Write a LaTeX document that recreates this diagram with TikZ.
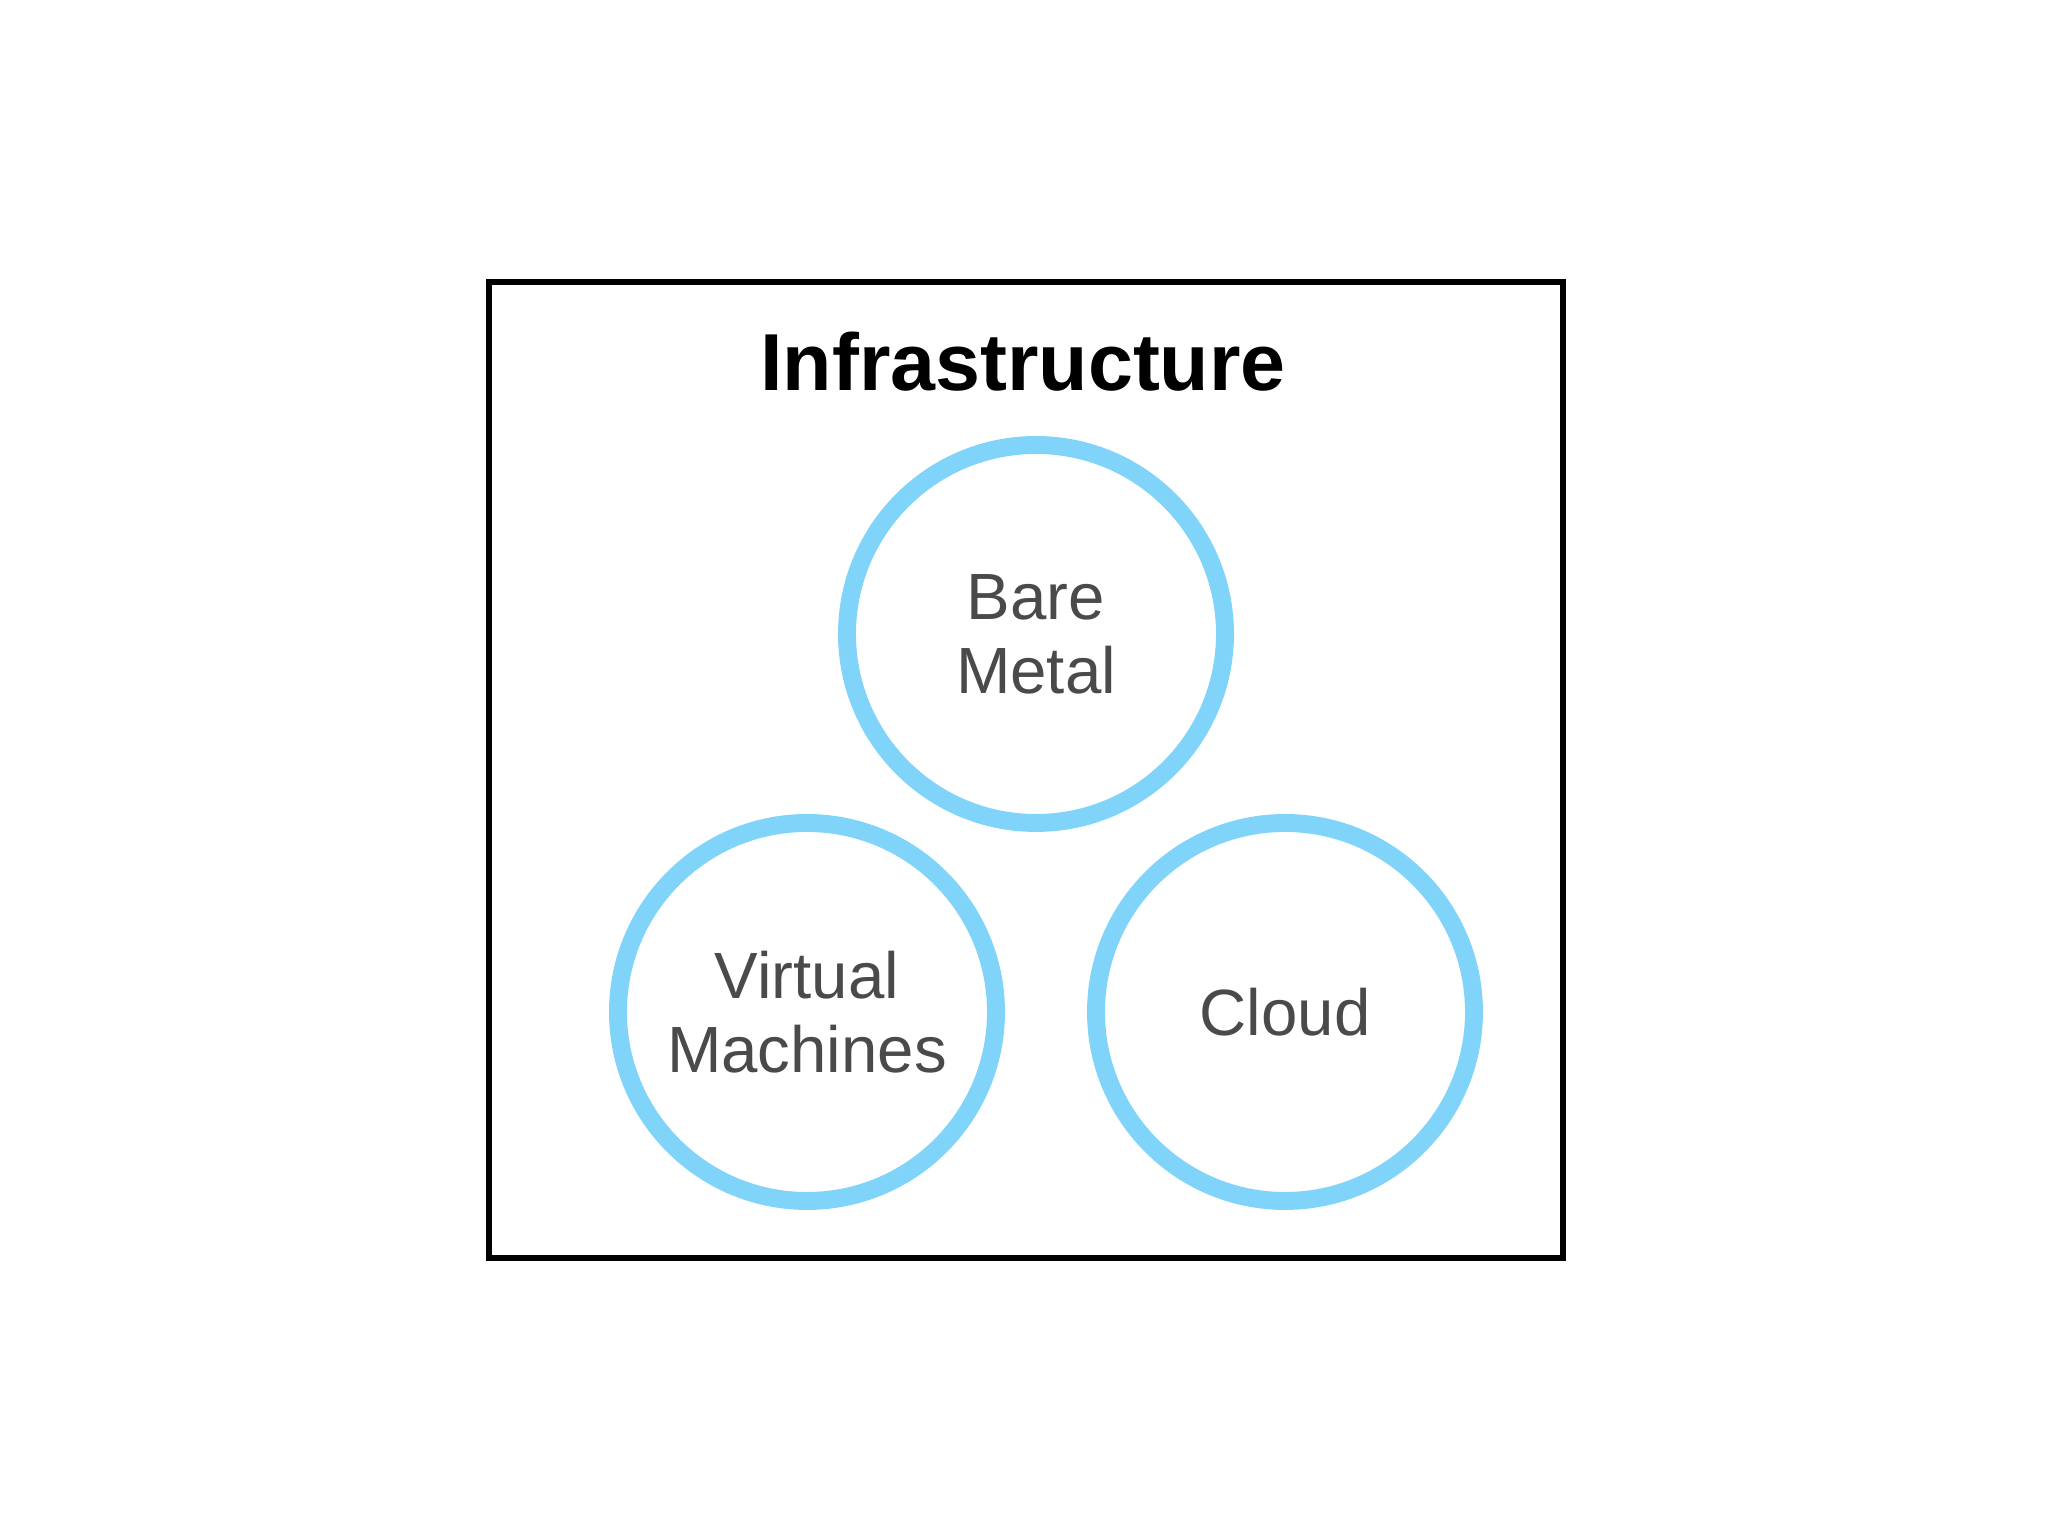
\documentclass[tikz,border=0pt]{standalone}
\usepackage{fontspec}
\setmainfont{Liberation Sans}
\usetikzlibrary{positioning}
\definecolor{ringblue}{RGB}{128,212,250}
\definecolor{labelgray}{RGB}{74,74,74}

\begin{document}
\begin{tikzpicture}[
    ring/.style={
      circle, draw=ringblue, line width=5.1pt, fill=white,
      minimum size=3.78cm, align=center, inner sep=0pt,
      text=labelgray, font=\fontsize{18.6}{21}\selectfont
    }
  ]
  \useasboundingbox (0,0) rectangle (20.48,15.36);
  % frame and title
  \draw[line width=1.8pt] (4.89,12.54) rectangle (15.63,2.78);
  \node[font=\bfseries\fontsize{23}{26}\selectfont] (title) at (10.23,11.74) {Infrastructure};
  % the three kinds
  \node[ring] (bare)  at (10.36,9.02) {Bare\\Metal};
  \node[ring] (virt)  at (8.07,5.24)  {Virtual\\Machines};
  \node[ring] (cloud) at (12.85,5.24) {Cloud};
\end{tikzpicture}
\end{document}
